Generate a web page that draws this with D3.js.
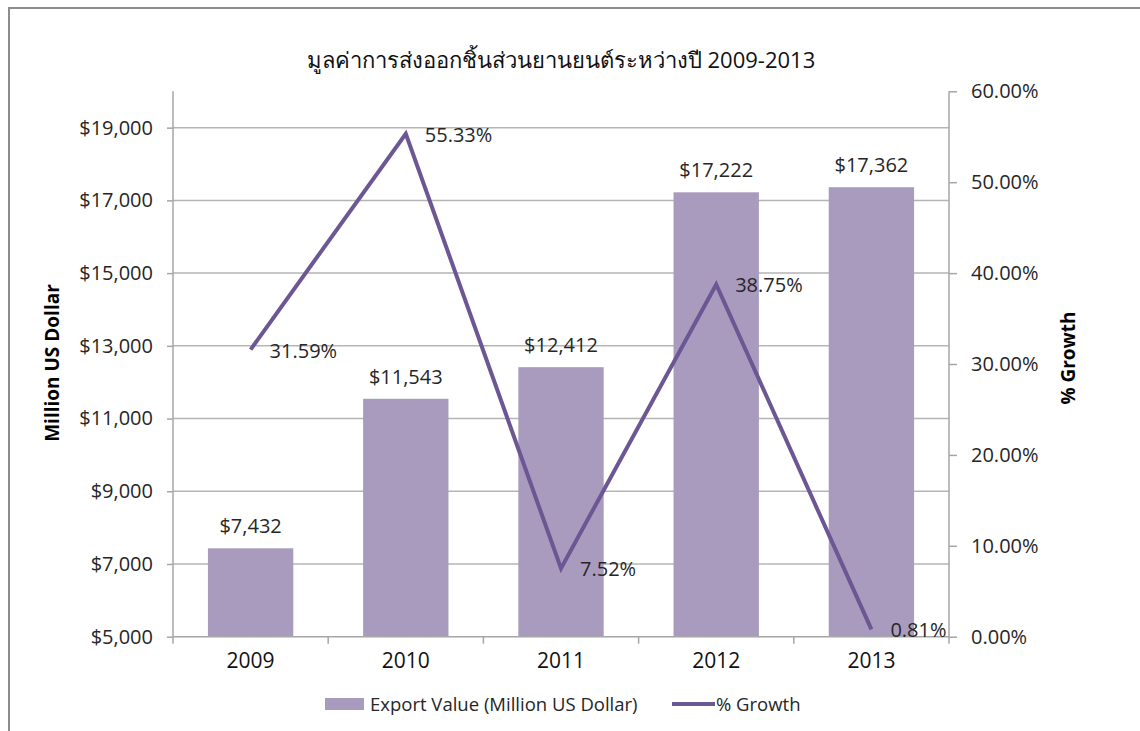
<!DOCTYPE html>
<html><head><meta charset="utf-8">
<script src="https://cdn.jsdelivr.net/npm/d3@7/dist/d3.min.js"></script>
<style>
body{margin:0;background:#fff;}
text{font-family:"Open Sans","Noto Sans",sans-serif;}
</style></head>
<body><svg id="c" width="1140" height="731"></svg>
<script>
const years = ["2009","2010","2011","2012","2013"];
const exportValues = [7432, 11543, 12412, 17222, 17362];
const growthValues = [0.3159, 0.5533, 0.0752, 0.3875, 0.0081];
const leftTicks = [5000, 7000, 9000, 11000, 13000, 15000, 17000, 19000];
const rightTicks = [0, 0.1, 0.2, 0.3, 0.4, 0.5, 0.6];
const titleText = "มูลค่าการส่งออกชิ้นส่วนยานยนต์ระหว่างปี 2009-2013";
const leftTitle = "Million US Dollar";
const rightTitle = "% Growth";
const legendLabels = ["Export Value (Million US Dollar)", "% Growth"];

const barColor = "#A99BBE", lineColor = "#6C5794", gridColor = "#B5B5B5", axisColor = "#A6A6A6", textColor = "#262626";
const svg = d3.select("#c");
const L = 173, R = 949, T = 91.3, B = 636.7;

// frame
svg.append("path").attr("d", `M9,731 V8 H1140`).attr("fill","none").attr("stroke","#8C8C8C").attr("stroke-width",2);

const x = d3.scaleBand().domain(years).range([L, R]).paddingInner(0.45).paddingOuter(0.225);
const yL = d3.scaleLinear().domain([5000, 20000]).range([B, T]);
const yR = d3.scaleLinear().domain([0, 0.6]).range([B, T]);

// grid
svg.append("g").selectAll("line").data(leftTicks.slice(1)).join("line")
  .attr("x1", L).attr("x2", R).attr("y1", d => yL(d)).attr("y2", d => yL(d))
  .attr("stroke", gridColor).attr("stroke-width", 1.5);

// bars
svg.append("g").selectAll("rect").data(years).join("rect")
  .attr("x", d => x(d)).attr("width", x.bandwidth())
  .attr("y", (d,i) => yL(exportValues[i])).attr("height", (d,i) => B - yL(exportValues[i]))
  .attr("fill", barColor);

// left axis
const gl = svg.append("g").attr("transform", `translate(${L},0)`)
  .call(d3.axisLeft(yL).tickValues(leftTicks).tickSize(6).tickPadding(14).tickFormat(d => "$" + d3.format(",")(d)));
gl.selectAll("path,line").attr("stroke", axisColor).attr("stroke-width", 1.5);
gl.select(".domain").attr("d", `M0,${T}V${B}`);
gl.selectAll("text").attr("font-size", 20).attr("fill", textColor).attr("font-family", '"Open Sans",sans-serif');

// right axis
const gr = svg.append("g").attr("transform", `translate(${R},0)`)
  .call(d3.axisRight(yR).tickValues(rightTicks).tickSize(8).tickPadding(14).tickFormat(d3.format(".2%")));
gr.selectAll("path,line").attr("stroke", axisColor).attr("stroke-width", 1.5);
gr.select(".domain").attr("d", `M0,${T}V${B}`);
gr.selectAll("text").attr("font-size", 20).attr("fill", textColor).attr("font-family", '"Open Sans",sans-serif');

// x axis
const gx = svg.append("g").attr("transform", `translate(0,${B})`)
  .call(d3.axisBottom(x).tickSize(0).tickPadding(16));
gx.select(".domain").attr("d", `M${L},0H${R}`).attr("stroke", axisColor).attr("stroke-width", 1.5);
gx.selectAll("text").attr("font-size", 21).attr("fill", "#111").attr("font-family", '"Open Sans",sans-serif');
const bounds = years.map(d => x(d) - x.step() * x.paddingInner() / 2).concat([R]);
bounds[0] = L;
svg.append("g").selectAll("line").data(bounds).join("line")
  .attr("x1", d => d).attr("x2", d => d).attr("y1", B).attr("y2", B + 7)
  .attr("stroke", axisColor).attr("stroke-width", 1.5);

// bar labels
svg.append("g").selectAll("text").data(years).join("text")
  .attr("x", d => x(d) + x.bandwidth()/2).attr("y", (d,i) => yL(exportValues[i]) - 15)
  .attr("text-anchor", "middle").attr("font-size", 20).attr("fill", textColor)
  .text((d,i) => "$" + d3.format(",")(exportValues[i]));

// line
const cx = d => x(d) + x.bandwidth()/2;
svg.append("path").datum(years)
  .attr("d", d3.line().x(d => cx(d)).y((d,i) => yR(growthValues[i])))
  .attr("fill", "none").attr("stroke", lineColor).attr("stroke-width", 4).attr("stroke-linejoin", "miter");

svg.append("g").selectAll("text").data(years).join("text")
  .attr("x", d => cx(d) + 19).attr("y", (d,i) => yR(growthValues[i]) + 8)
  .attr("font-size", 20).attr("fill", textColor)
  .text((d,i) => d3.format(".2%")(growthValues[i]));

// title
svg.append("text").attr("x", 561).attr("y", 68).attr("text-anchor", "middle")
  .attr("font-size", 22).attr("fill", "#111").text(titleText);

// axis titles
svg.append("text").attr("transform", "translate(59,363) rotate(-90)").attr("text-anchor", "middle")
  .attr("font-size", 19).attr("font-weight", "bold").attr("fill", "#000").text(leftTitle);
svg.append("text").attr("transform", "translate(1075,358) rotate(-90)").attr("text-anchor", "middle")
  .attr("font-size", 19).attr("font-weight", "bold").attr("fill", "#000").text(rightTitle);

// legend
const lg = svg.append("g");
lg.append("rect").attr("x", 325).attr("y", 698).attr("width", 39).attr("height", 12).attr("fill", barColor);
lg.append("text").attr("x", 370).attr("y", 711).attr("font-size", 18.5).attr("fill", textColor).text(legendLabels[0]);
lg.append("line").attr("x1", 672).attr("x2", 715).attr("y1", 704).attr("y2", 704).attr("stroke", lineColor).attr("stroke-width", 4);
lg.append("text").attr("x", 716).attr("y", 711).attr("font-size", 18.5).attr("fill", textColor).text(legendLabels[1]);
</script></body></html>
